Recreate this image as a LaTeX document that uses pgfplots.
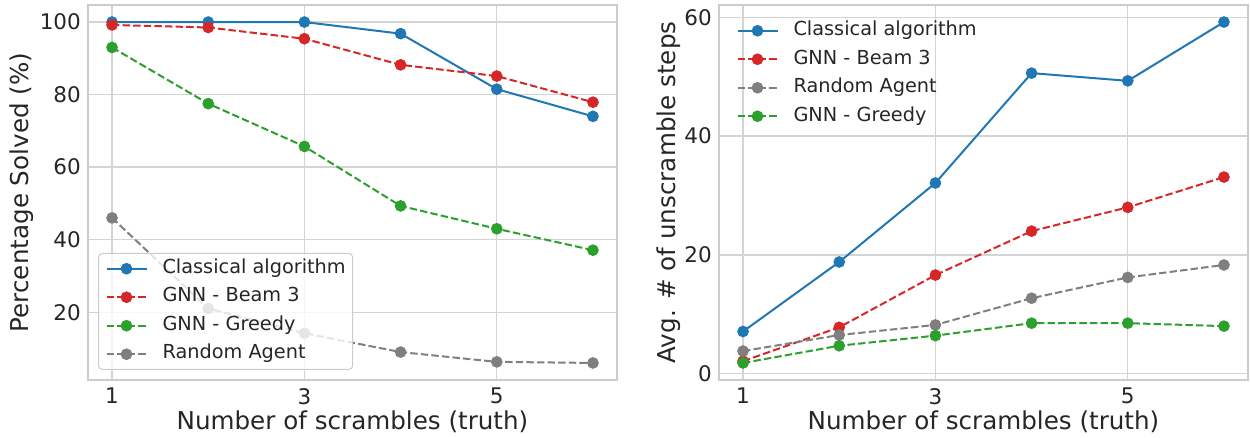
\documentclass[border=0pt]{standalone}
\usepackage{pgfplots}
\pgfplotsset{compat=1.18}
\usepackage{fontspec}
\setmainfont{DejaVu Sans}
\definecolor{cblue}{HTML}{1F77B4}
\definecolor{cred}{HTML}{D62728}
\definecolor{cgreen}{HTML}{2CA02C}
\definecolor{cgray}{HTML}{7F7F7F}
\definecolor{txt}{HTML}{262626}
\definecolor{gridc}{HTML}{D4D4D4}
\definecolor{framec}{HTML}{CCCCCC}
\pgfplotsset{
  myaxis/.style={
    scale only axis, width=529pt, height=375pt,
    anchor=south west,
    xmin=0.75, xmax=6.25,
    xtick={1,3,5},
    grid=major,
    major grid style={draw=gridc, line width=1.3pt},
    axis line style={draw=framec, line width=1.6pt},
    major tick length=0pt,
    tick label style={font=\fontsize{21.5}{25}\selectfont, text=txt},
    /pgf/number format/assume math mode=true,
    xticklabel style={inner sep=0pt},
    yticklabel style={inner sep=0pt},
    xticklabel shift=8pt,
    yticklabel shift=7pt,
    label style={font=\fontsize{24.6}{29}\selectfont, text=txt},
    xlabel style={at={(axis description cs:0.5,-0.1333)}, anchor=base},
    legend cell align=left,
    legend image code/.code={\draw[mark repeat=2,mark phase=2, fill opacity=1, draw opacity=1] plot coordinates {(0pt,0pt)(20pt,0pt)(40pt,0pt)};},
    legend style={
      font=\fontsize{19.3}{23}\selectfont, text=txt,
      rounded corners=4pt, line width=1pt,
      fill=white, fill opacity=0.8, draw opacity=1, text opacity=1,
      inner xsep=7pt, inner ysep=6pt,
      row sep=10pt,
      nodes={inner sep=0pt, text height=14pt, text depth=4.5pt},
      /tikz/every odd column/.append style={column sep=15pt},
    },
  },
  blueline/.style={color=cblue, line width=2pt, mark=*, mark size=4.8pt, mark options={solid}},
  redline/.style={color=cred, line width=2pt, dash pattern=on 7.4pt off 3.2pt, mark=*, mark size=4.8pt, mark options={solid}},
  greenline/.style={color=cgreen, line width=2pt, dash pattern=on 7.4pt off 3.2pt, mark=*, mark size=4.8pt, mark options={solid}},
  grayline/.style={color=cgray, line width=2pt, dash pattern=on 7.4pt off 3.2pt, mark=*, mark size=4.8pt, mark options={solid}},
}
\begin{document}
\begin{tikzpicture}
\path[use as bounding box] (0,0) rectangle (1250pt,437pt);
% Left
\begin{axis}[myaxis, at={(88pt,57pt)},
  ymin=1.3, ymax=104.7, ytick={20,40,60,80,100},
  xlabel={Number of scrambles (truth)},
  ylabel={Percentage Solved (\%)},
  ylabel style={at={(axis description cs:-0.1134,0.5)}, anchor=base},
  legend style={at={(0.0189,0.0267)}, anchor=south west, draw=framec},
]
\addplot[blueline] coordinates {(1,100) (2,100) (3,100) (4,96.8) (5,81.5) (6,74)};
\addlegendentry{Classical algorithm}
\addplot[redline] coordinates {(1,99.2) (2,98.5) (3,95.4) (4,88.2) (5,85.1) (6,77.9)};
\addlegendentry{GNN - Beam 3}
\addplot[greenline] coordinates {(1,93) (2,77.5) (3,65.7) (4,49.3) (5,43) (6,37.1)};
\addlegendentry{GNN - Greedy}
\addplot[grayline] coordinates {(1,46) (2,21) (3,14.2) (4,9) (5,6.3) (6,6.0)};
\addlegendentry{Random Agent}
\end{axis}
% Right
\begin{axis}[myaxis, at={(719pt,57pt)},
  ymin=-1.07, ymax=62.07, ytick={0,20,40,60},
  xlabel={Number of scrambles (truth)},
  ylabel={Avg. \# of unscramble steps},
  ylabel style={at={(axis description cs:-0.083,0.5)}, anchor=base},
  legend style={at={(0.0189,0.9733)}, anchor=north west, draw=none, fill=none},
]
\addplot[blueline] coordinates {(1,7.1) (2,18.8) (3,32.1) (4,50.6) (5,49.3) (6,59.2)};
\addlegendentry{Classical algorithm}
\addplot[redline] coordinates {(1,2.1) (2,7.8) (3,16.6) (4,24) (5,28) (6,33.1)};
\addlegendentry{GNN - Beam 3}
\addplot[grayline] coordinates {(1,3.8) (2,6.5) (3,8.2) (4,12.7) (5,16.2) (6,18.3)};
\addlegendentry{Random Agent}
\addplot[greenline] coordinates {(1,1.8) (2,4.7) (3,6.4) (4,8.5) (5,8.5) (6,8.0)};
\addlegendentry{GNN - Greedy}
\end{axis}
\end{tikzpicture}
\end{document}
